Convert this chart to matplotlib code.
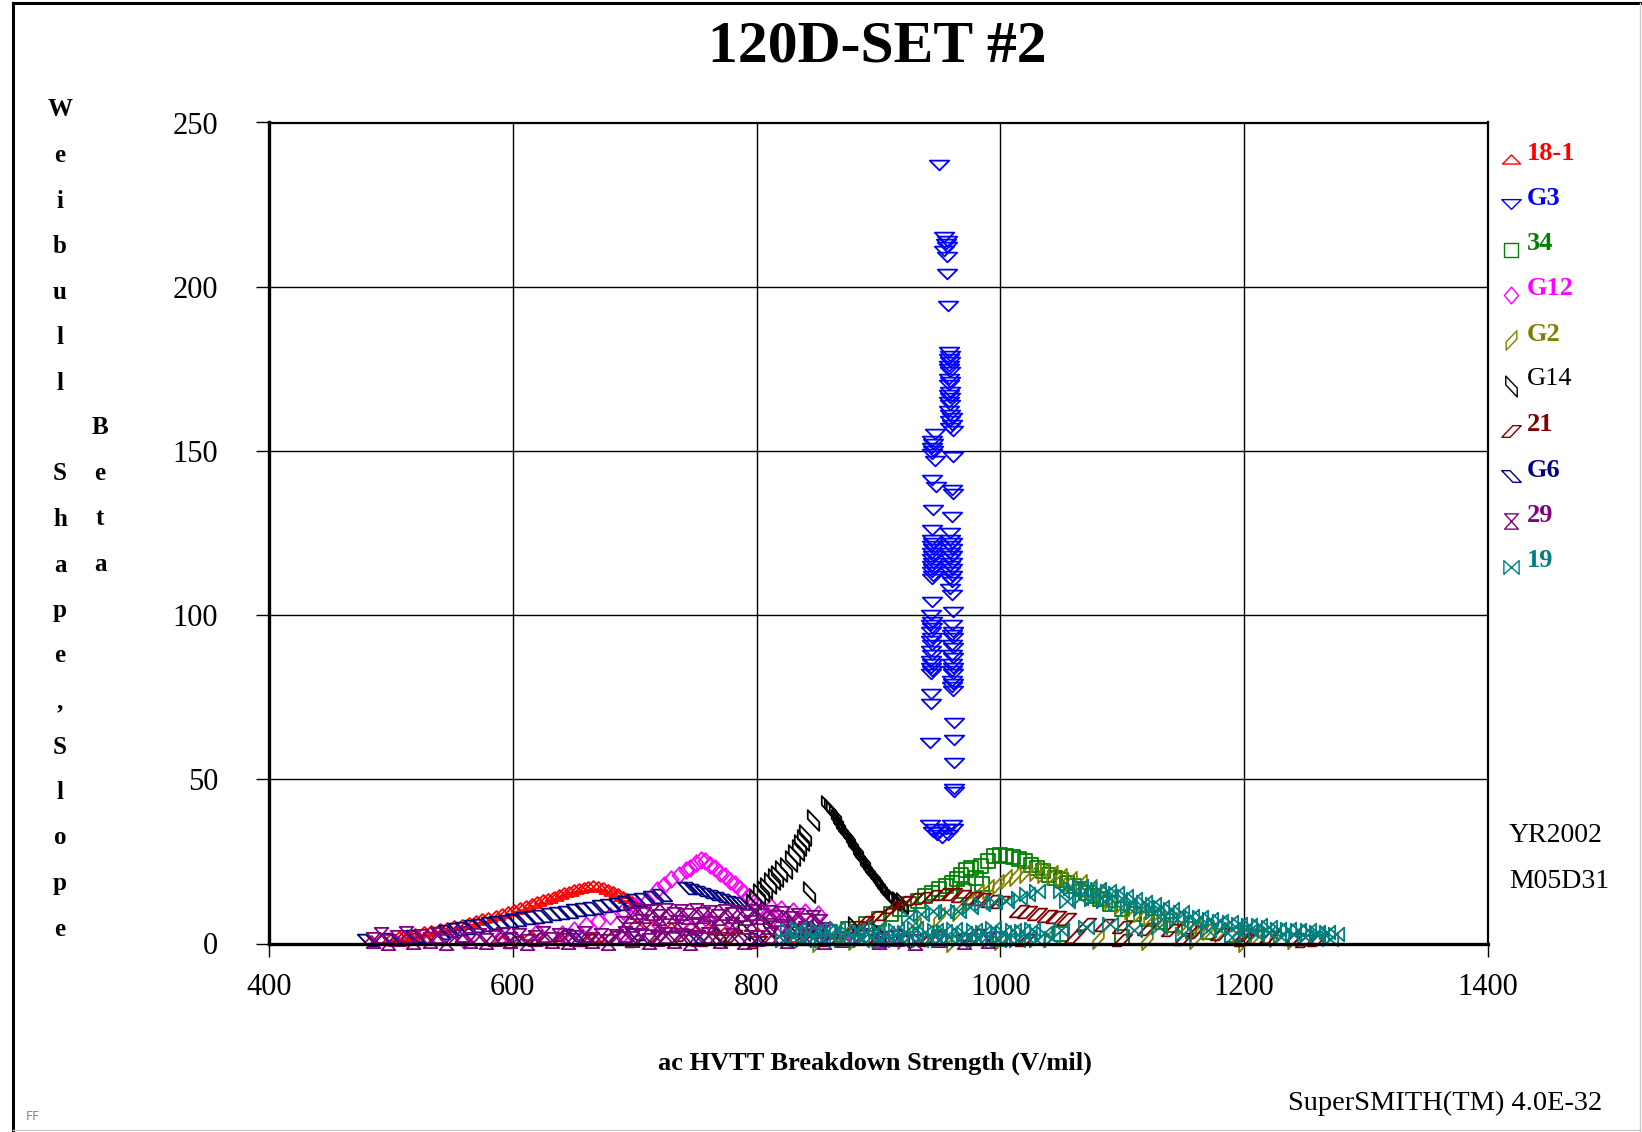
import matplotlib
matplotlib.use('Agg')
import matplotlib.pyplot as plt
from matplotlib.path import Path
from matplotlib.lines import Line2D

plt.rcParams['font.family'] = ['Liberation Serif', 'DejaVu Serif']

# 文字
title = '120D-SET #2'
x_label = 'ac HVTT Breakdown Strength (V/mil)'
y_label_1 = 'Weibull Shape,Slope'
y_label_2 = 'Beta'
x_ticks = [400, 600, 800, 1000, 1200, 1400]
y_ticks = [0, 50, 100, 150, 200, 250]

names = ['18-1', 'G3', '34', 'G12', 'G2', 'G14', '21', 'G6', '29', '19']
colors = ['#ff0000', '#0000ff', '#008000', '#ff00ff', '#808000',
          '#000000', '#800000', '#000080', '#800080', '#008080']

# 資料 (x = 強度, y = beta)
s18_1 = [(484, 1.0), (492, 1.4), (500, 1.8), (507, 2.3), (514, 2.7), (520, 3.2), (527, 3.7),
         (533, 4.1), (540, 4.6), (546, 5.0), (552, 5.5), (558, 6.0), (564, 6.6), (570, 7.2),
         (575, 7.7), (580, 8.2), (586, 8.8), (591, 9.4), (596, 9.9), (601, 10.5), (606, 11.1),
         (611, 11.8), (616, 12.4), (620, 12.9), (625, 13.5), (629, 14.0), (634, 14.6), (638, 15.1),
         (642, 15.6), (646, 16.0), (650, 16.5), (654, 16.9), (658, 17.3), (662, 17.6), (666, 17.7),
         (670, 17.5), (674, 17.1), (678, 16.6), (682, 16.0), (686, 15.3), (690, 14.6), (694, 13.8),
         (698, 13.0),
         (505, 0.8), (530, 1.5), (560, 2.0), (590, 1.2), (615, 2.5), (640, 1.0), (665, 2.0),
         (700, 6.0), (715, 5.5), (730, 5.0), (745, 5.2), (760, 4.8), (775, 4.0), (800, 3.5),
         (830, 2.0), (870, 1.5), (905, 1.0)]

g3 = [(950, 237), (954, 215), (956, 214), (955, 213), (956, 212), (954, 211), (956, 209),
      (956, 204), (957, 194),
      (958, 180), (959, 179), (958, 178), (959, 177), (958, 176), (958, 175), (959, 174),
      (958, 172), (959, 171), (958, 170), (959, 168), (958, 167), (959, 166), (958, 165),
      (959, 164), (958, 162), (959, 161), (960, 160), (959, 159), (960, 158), (959, 157),
      (961, 156),
      (946, 155), (944, 153), (945, 152), (944, 151), (945, 150), (944, 149), (946, 147),
      (961, 148), (944, 141), (947, 139), (960, 138), (961, 137), (945, 132), (960, 130),
      (944, 126), (959, 125),
      (944, 123), (945, 122), (944, 121), (945, 120), (944, 119), (945, 118), (944, 117),
      (945, 116), (944, 115), (945, 114), (944, 113), (945, 112), (944, 111),
      (959, 123), (960, 122), (959, 121), (960, 120), (959, 119), (960, 118), (959, 117),
      (960, 116), (959, 115), (960, 114), (959, 113), (960, 112), (959, 111), (960, 110),
      (959, 108), (960, 106),
      (944, 104), (961, 101),
      (943, 100), (944, 98), (943, 97), (944, 96), (943, 95), (944, 93), (943, 92),
      (944, 91), (943, 89), (944, 88), (943, 86), (944, 85), (943, 84), (944, 83), (943, 82),
      (960, 97), (961, 95), (960, 94), (961, 93), (960, 91), (961, 90), (960, 88),
      (961, 87), (960, 85), (961, 84), (960, 83), (961, 82), (960, 80), (961, 79),
      (960, 78), (961, 77),
      (943, 76), (943, 73), (962, 67), (942, 61), (962, 62), (962, 55), (962, 47), (962, 46),
      (942, 36), (946, 35), (950, 34), (955, 35), (960, 36), (948, 33), (952, 32),
      (957, 33), (945, 34), (961, 35)]

s34 = [(860, 3.5), (875, 4.5), (890, 6.0), (900, 7.5), (910, 9.0), (918, 10.5), (925, 12.0),
       (932, 13.0), (938, 14.5), (944, 15.5), (950, 16.5), (955, 17.5), (960, 18.5), (964, 19.5),
       (968, 21.0), (972, 22.5), (976, 23.0), (980, 20.0), (984, 23.5), (990, 25.0), (995, 26.5),
       (1000, 26.8), (1005, 26.5), (1010, 26.3), (1015, 25.8), (1020, 25.0), (1025, 24.0),
       (1030, 23.0), (1035, 22.0), (1040, 21.0), (1045, 20.0), (1050, 19.2), (1055, 18.3),
       (1060, 17.5), (1065, 16.5), (1070, 15.5), (1075, 14.5), (1082, 13.5), (1090, 12.0),
       (1100, 10.5), (1110, 9.0), (1120, 7.5), (1130, 6.5), (1140, 5.5), (1155, 4.5),
       (1170, 3.5), (1190, 2.5), (1210, 2.0),
       (900, 1.0), (950, 2.0), (1000, 1.5), (1050, 3.0), (1100, 2.0), (970, 16.0), (985, 18.0)]

g12 = [(560, 1.0), (590, 2.0), (620, 3.5), (640, 3.0), (650, 4.0), (660, 5.5), (670, 7.0),
       (680, 8.5), (690, 10.0), (700, 11.5), (710, 13.0),
       (718, 16.3), (724, 17.8), (730, 19.5), (736, 21.0), (742, 22.5), (745, 23.0),
       (750, 24.5), (754, 25.5), (758, 25.0), (762, 24.0), (766, 23.0), (770, 21.5), (774, 20.5),
       (778, 19.0), (782, 18.0), (786, 16.5), (790, 15.5), (794, 14.2), (798, 12.5), (802, 11.0),
       (806, 10.0), (812, 11.0), (820, 10.5), (830, 10.0), (840, 9.5), (850, 9.0),
       (690, 3.0), (720, 5.5), (740, 6.5), (760, 7.0), (780, 6.0), (810, 8.0), (820, 6.0),
       (840, 5.0), (860, 4.0), (880, 2.0), (900, 1.0)]

g2 = [(870, 2.0), (900, 3.0), (930, 5.0), (950, 8.0), (965, 10.0), (975, 13.0), (982, 15.0),
      (990, 16.5), (998, 18.0), (1005, 19.5), (1012, 20.5), (1020, 21.5), (1028, 22.0),
      (1035, 21.5), (1042, 21.0), (1050, 20.0), (1058, 19.0), (1066, 18.0), (1074, 16.5),
      (1082, 15.0), (1090, 13.5), (1098, 12.0), (1106, 10.5), (1114, 9.5), (1122, 8.5),
      (1130, 7.5), (1140, 6.5), (1150, 5.5), (1160, 5.0), (1170, 4.0), (1180, 3.5), (1195, 3.0),
      (1210, 2.5), (1225, 2.0), (1240, 1.5),
      (850, 0.5), (880, 1.0), (920, 1.5), (960, 0.5), (1000, 1.0), (1040, 2.0), (1080, 1.5),
      (1120, 1.0), (1160, 1.5), (1200, 0.5)]

g14 = [(796, 12.0), (799, 13.5), (802, 15.0), (805, 16.0), (808, 17.0), (811, 18.5), (814, 19.5),
       (817, 20.5), (820, 22.0), (824, 23.0), (828, 25.0), (831, 27.0), (834, 28.5), (836, 30.0),
       (838, 31.5), (840, 33.0), (846, 37.5), (843, 15.6),
       (858, 42.0), (860, 41.0), (862, 40.0), (864, 39.0), (866, 37.5), (868, 36.5), (870, 35.0),
       (872, 34.0), (874, 33.0), (876, 32.0), (878, 30.5), (880, 29.5), (882, 28.5), (884, 27.0),
       (886, 26.0), (888, 25.0), (890, 23.5), (892, 22.5), (894, 21.5), (896, 20.5), (898, 19.5),
       (900, 18.5), (902, 17.5), (904, 16.5), (906, 15.5), (908, 14.8), (910, 14.0), (913, 13.3),
       (916, 12.7), (919, 12.2),
       (770, 2.0), (790, 4.0), (810, 5.0), (830, 5.5), (850, 6.0), (880, 5.0), (900, 3.0), (920, 2.0)]

s21 = [(880, 5.0), (888, 6.5), (896, 8.0), (905, 9.0), (912, 11.0), (920, 12.5), (928, 13.5),
       (936, 14.0), (944, 14.5), (952, 15.0), (960, 15.0), (968, 14.5), (976, 14.0), (984, 13.5),
       (992, 13.0), (1000, 12.5),
       (1015, 10.0), (1022, 9.5), (1030, 9.0), (1038, 8.5), (1046, 8.0), (1054, 7.5), (1070, 6.0),
       (1085, 5.5), (1100, 5.0), (1120, 4.5), (1140, 4.0), (1160, 3.5), (1180, 3.0), (1200, 2.5),
       (1220, 2.0), (1240, 1.5), (1260, 1.0),
       (600, 0.5), (620, 1.5), (640, 2.5), (660, 1.0), (680, 2.0), (700, 0.8), (720, 1.8),
       (740, 2.6), (760, 1.2), (780, 2.2), (800, 0.6), (820, 1.6), (840, 2.4), (860, 1.0),
       (900, 2.0), (940, 1.0), (980, 2.5), (1020, 1.0), (1060, 2.0), (1100, 1.0), (1150, 1.5),
       (1200, 1.0), (1250, 0.8)]

g6 = [(480, 1.0), (500, 1.5), (520, 2.2),
      (540, 3.3), (547, 3.8), (554, 4.3), (561, 4.8), (568, 5.3), (575, 5.7), (582, 6.1),
      (589, 6.5), (596, 6.9), (603, 7.3), (610, 7.7), (617, 8.1), (624, 8.5), (631, 8.9),
      (638, 9.3), (645, 9.7), (652, 10.1), (659, 10.5), (666, 10.9), (673, 11.3), (680, 11.7),
      (687, 12.1), (694, 12.6), (701, 13.1), (708, 13.6), (715, 14.2), (722, 14.8),
      (743, 17.0), (748, 16.8), (753, 16.3), (758, 15.8), (763, 15.2), (768, 14.5), (773, 13.8),
      (778, 13.2), (783, 12.7), (787, 12.3),
      (600, 1.5), (650, 2.5), (700, 3.0), (750, 2.0), (800, 1.5), (850, 2.0), (900, 1.0)]

s29 = [(485, 1.0), (492, 2.5), (498, 0.5), (505, 1.8), (512, 2.8), (518, 0.8), (525, 2.0),
       (532, 1.2), (538, 2.6), (545, 0.6), (552, 1.9), (558, 2.8), (565, 1.0), (572, 2.2),
       (578, 0.7), (585, 1.6), (592, 2.7), (598, 1.1), (605, 2.3), (612, 0.6), (618, 1.8),
       (625, 2.9), (632, 1.2), (638, 2.4), (645, 0.8), (652, 1.7), (658, 2.8), (665, 1.1),
       (672, 2.2), (678, 0.6), (685, 1.9), (692, 3.0), (698, 1.3), (705, 2.4), (712, 0.8),
       (718, 1.6), (725, 2.7), (732, 1.0), (738, 2.2), (745, 0.5), (752, 1.8), (760, 2.6),
       (770, 1.0), (780, 2.2), (790, 0.8), (800, 1.8), (812, 2.5), (825, 1.2), (840, 2.0),
       (855, 0.8), (870, 1.5), (885, 2.2), (900, 0.9), (915, 1.6), (930, 0.6), (950, 1.4),
       (970, 0.8), (990, 1.2),
       (696, 8.6), (702, 10.0), (708, 8.8), (714, 9.6), (720, 8.2), (726, 9.9), (732, 8.7),
       (738, 9.5), (744, 8.3), (750, 9.8), (756, 8.6), (762, 9.4), (768, 8.1), (774, 9.7),
       (780, 8.8), (786, 9.3), (792, 8.0), (798, 9.6), (804, 8.5), (810, 9.2), (816, 7.8),
       (822, 8.9), (828, 7.5), (834, 8.4), (840, 7.0), (846, 7.8), (852, 6.5),
       (690, 6.0), (705, 6.5), (720, 5.8), (735, 6.2), (750, 5.5), (765, 6.0), (780, 5.6),
       (795, 6.3), (810, 5.2), (825, 5.0), (840, 4.5), (855, 4.0)]

s19 = [(822, 1.2), (826, 4.0), (830, 2.0), (834, 4.6), (838, 1.0), (842, 3.6), (846, 1.8),
       (850, 4.4), (854, 1.2), (858, 3.8), (862, 2.2), (866, 4.8), (870, 1.0), (874, 3.4),
       (878, 1.6), (882, 4.2), (886, 1.2), (890, 3.6), (894, 2.0), (898, 4.4), (902, 1.0),
       (906, 3.2), (910, 1.8), (914, 4.0), (918, 1.4), (922, 3.6), (926, 2.2), (930, 4.6),
       (934, 1.0), (938, 3.4), (942, 1.6), (946, 4.2), (950, 1.2), (954, 3.8), (958, 2.0),
       (962, 4.4), (966, 1.0), (970, 3.2), (974, 1.8), (978, 4.0), (982, 1.4), (986, 3.6),
       (990, 2.2), (994, 4.8), (998, 1.0), (1002, 3.4), (1006, 1.6), (1010, 4.2), (1014, 1.2),
       (1018, 3.8), (1022, 2.0), (1026, 4.4), (1030, 1.0), (1036, 3.2), (1042, 1.8),
       (925, 8.0), (935, 9.0), (945, 10.0), (955, 9.5), (965, 10.0), (975, 11.0), (985, 12.0),
       (995, 12.5), (1005, 13.0), (1015, 14.0), (1022, 15.0), (1030, 16.0),
       (1050, 16.0), (1058, 17.0), (1065, 17.5), (1072, 17.0), (1080, 16.5), (1088, 16.0),
       (1095, 15.5), (1102, 14.5), (1110, 13.5), (1118, 12.5), (1125, 12.0), (1132, 11.0),
       (1140, 10.5), (1148, 9.5), (1156, 8.5), (1164, 8.0), (1172, 7.5), (1180, 7.0),
       (1188, 6.5), (1196, 6.0), (1204, 5.5), (1212, 5.5), (1220, 5.0), (1228, 4.5),
       (1236, 4.5), (1244, 4.0), (1252, 4.0), (1260, 3.5), (1268, 3.5), (1275, 3.0),
       (1055, 13.0), (1065, 14.0), (1075, 13.5), (1085, 13.0), (1095, 12.0), (1105, 11.0),
       (1115, 10.5), (1125, 9.5), (1135, 8.5), (1145, 7.5), (1160, 6.5), (1175, 5.5),
       (1190, 4.5), (1205, 4.0), (1220, 3.5), (1240, 3.0), (1260, 2.5),
       (1050, 4.0), (1070, 5.0), (1090, 6.0), (1110, 4.0), (1130, 5.0), (1150, 3.0),
       (1170, 4.0), (1190, 2.0), (1210, 3.0), (1230, 2.0), (1250, 2.0), (1270, 1.5)]

series = [s18_1, g3, s34, g12, g2, g14, s21, g6, s29, s19]


def shape(verts):
    return Path(verts + [verts[0]], closed=True)


# 各組的符號 (空心)
markers = [
    shape([(-1, -0.5), (1, -0.5), (0, 0.5)]),
    shape([(-1, 0.5), (1, 0.5), (0, -0.5)]),
    shape([(-1, -1), (1, -1), (1, 1), (-1, 1)]),
    shape([(-0.85, 0), (0, -1), (0.85, 0), (0, 1)]),
    shape([(-0.55, -1), (-0.55, -0.15), (0.55, 1), (0.55, 0.15)]),
    shape([(-0.55, 1), (-0.55, 0.15), (0.55, -1), (0.55, -0.15)]),
    shape([(-1, -0.6), (-0.15, -0.6), (1, 0.6), (0.15, 0.6)]),
    shape([(-1, 0.6), (-0.15, 0.6), (1, -0.6), (0.15, -0.6)]),
    shape([(-0.9, 1), (0.9, 1), (-0.9, -1), (0.9, -1)]),
    shape([(-1, 0.9), (-1, -0.9), (1, 0.9), (1, -0.9)]),
]
msizes = [13, 14, 10, 12, 14, 15, 14, 14, 11, 11]

W, H = 1642, 1132
fig = plt.figure(figsize=(W / 100, H / 100), dpi=100)
ax = fig.add_axes([269 / W, 1 - 943.5 / H, (1488 - 269) / W, (943.5 - 122.5) / H])

for pts, m, c, ms in zip(series, markers, colors, msizes):
    xs = [p[0] for p in pts]
    ys = [p[1] for p in pts]
    ax.plot(xs, ys, linestyle='none', marker=m, markersize=ms,
            markerfacecolor='none', markeredgecolor=c, markeredgewidth=1.3, clip_on=False)

ax.set_xlim(400, 1400)
ax.set_ylim(0, 250)
ax.set_xticks(x_ticks)
ax.set_yticks(y_ticks)
ax.grid(True, color='black', linewidth=1.0)
ax.set_axisbelow(True)
ax.tick_params(axis='both', direction='out', length=9.5, width=1.0, color='black', labelsize=22)
ax.tick_params(axis='x', pad=12)
ax.tick_params(axis='y', pad=27)
for side in ['left', 'bottom']:
    ax.spines[side].set_linewidth(2.4)
for side in ['top', 'right']:
    ax.spines[side].set_linewidth(1.6)

# 標題與軸標籤
fig.text(877 / W, 1 - 47 / H, title, fontsize=43, fontweight='bold', ha='center', va='center')
fig.text(875 / W, 1 - 1063 / H, x_label, fontsize=19, fontweight='bold', ha='center', va='center')
for i, ch in enumerate(y_label_1):
    fig.text(60 / W, 1 - (110 + i * 45.5) / H, ch, fontsize=18, fontweight='bold',
             ha='center', va='center')
for i, ch in enumerate(y_label_2):
    fig.text(100 / W, 1 - (428 + i * 45.5) / H, ch, fontsize=18, fontweight='bold',
             ha='center', va='center')

# 圖例
for i, (name, m, c, ms) in enumerate(zip(names, markers, colors, msizes)):
    y = 153 + i * 45.3
    fig.add_artist(Line2D([1511 / W], [1 - (y + 6) / H], transform=fig.transFigure,
                          linestyle='none', marker=m, markersize=ms,
                          markerfacecolor='none', markeredgecolor=c, markeredgewidth=1.0))
    fig.text(1527 / W, 1 - y / H, name, color=c, fontsize=19,
             fontweight='normal' if name == 'G14' else 'bold', ha='left', va='center')

fig.text(1509 / W, 1 - 835 / H, 'YR2002', fontsize=20, ha='left', va='center')
fig.text(1509 / W, 1 - 882 / H, 'M05D31', fontsize=20, ha='left', va='center')
fig.text(1602 / W, 1 - 1103 / H, 'SuperSMITH(TM) 4.0E-32', fontsize=20.5, ha='right', va='center')
fig.text(26 / W, 1 - 1116 / H, 'FF', fontsize=9, color='#888888', family='DejaVu Sans',
         ha='left', va='center')

# 外框
fig.add_artist(Line2D([13 / W, 13 / W], [1 - 3 / H, 0], transform=fig.transFigure,
                      color='black', linewidth=2.2))
fig.add_artist(Line2D([13 / W, 1640 / W], [1 - 3 / H, 1 - 3 / H], transform=fig.transFigure,
                      color='black', linewidth=2.2))
fig.add_artist(Line2D([1640 / W, 1640 / W], [1 - 3 / H, 0], transform=fig.transFigure,
                      color='#cccccc', linewidth=1.0))
fig.add_artist(Line2D([13 / W, 1640 / W], [1 - 1130 / H, 1 - 1130 / H], transform=fig.transFigure,
                      color='#cccccc', linewidth=1.0))

fig.savefig('out.png', dpi=100)
